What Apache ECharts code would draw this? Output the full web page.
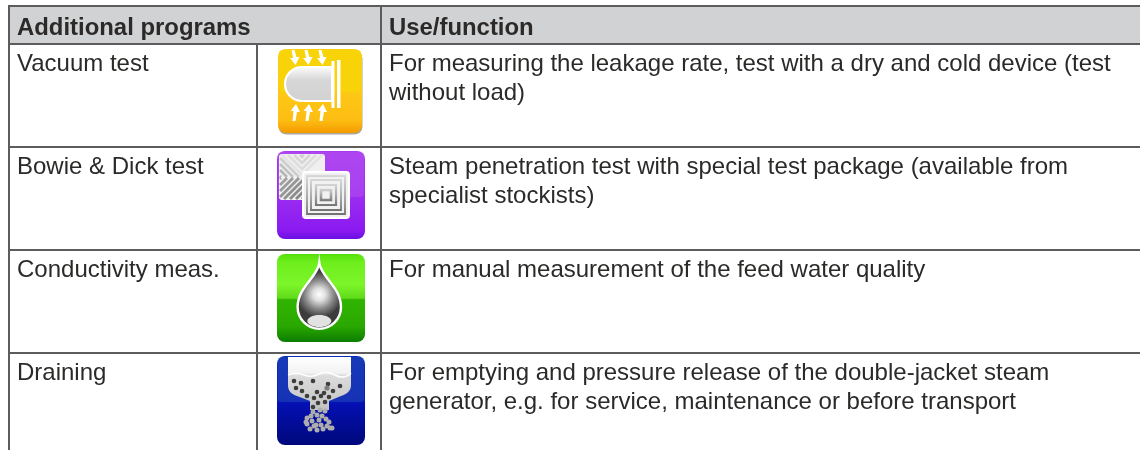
<!DOCTYPE html>
<html>
<head>
<meta charset="utf-8">
<title>Additional programs</title>
<style>
html,body{margin:0;padding:0;background:#fff}
#main{width:1140px;height:450px}
</style>
<script src="https://cdn.jsdelivr.net/npm/echarts@6/dist/echarts.min.js"></script>
</head>
<body>
<div id="main"></div>
<script>
// table content
var headers = ['Additional programs', 'Use/function'];
var programs = ['Vacuum test', 'Bowie & Dick test', 'Conductivity meas.', 'Draining'];
var uses = [
    ['For measuring the leakage rate, test with a dry and cold device (test', 'without load)'],
    ['Steam penetration test with special test package (available from', 'specialist stockists)'],
    ['For manual measurement of the feed water quality'],
    ['For emptying and pressure release of the double-jacket steam', 'generator, e.g. for service, maintenance or before transport']
];

var Grad = echarts.graphic.LinearGradient;
var Radial = echarts.graphic.RadialGradient;
var LINE = '#5c5c5e';
var TEXT = '#2b2a29';
var FONT = '"Liberation Sans", Arial, sans-serif';
var rowTop = [44, 147, 250, 353];

function rect(x, y, w, h, fill, r) {
    return {type: 'rect', shape: {x: x, y: y, width: w, height: h, r: r || 0}, style: {fill: fill}};
}
function text(str, x, y, bold) {
    return {type: 'text', style: {text: str, x: x, y: y, fill: TEXT, fontFamily: FONT,
        fontSize: bold ? 23.9 : 24, fontWeight: bold ? 'bold' : 'normal', align: 'left', verticalAlign: 'middle'}};
}
function path(d, fill, stroke, lw) {
    return {type: 'path', shape: {pathData: d}, style: {fill: fill || 'none', stroke: stroke || 'none', lineWidth: lw || 1}};
}
function dot(x, y, r, fill) {
    return {type: 'circle', shape: {cx: x, cy: y, r: r}, style: {fill: fill}};
}
function group(x, y, children) {
    return {type: 'group', x: x, y: y, children: children};
}
// rounded square with a lighter upper part, as in all four buttons
function button(w, h, stops, gloss, m) {
    return [
        rect(0, 0, w, h, new Grad(0, 0, 0, 1, stops), 8),
        path('M5 1H' + (w - 5) + 'Q' + (w - 1) + ' 1 ' + (w - 1) + ' 5V' + (m - 4) + 'Q' + (w - 1) + ' ' + m + ' ' + (w - 5) + ' ' + m + 'H5Q1 ' + m + ' 1 ' + (m - 4) + 'V5Q1 1 5 1Z', gloss)
    ];
}

function tableLines() {
    var c = [];
    c.push(rect(9, 6, 1131, 38, '#d1d2d4'));
    c.push(rect(8, 5, 1132, 2, LINE));
    c.push(rect(8, 43, 1132, 2, LINE));
    c.push(rect(8, 5, 2, 445, LINE));
    c.push(rect(380, 5, 2, 445, LINE));
    c.push(rect(256, 44, 2, 406, LINE));
    c.push(rect(8, 146, 1132, 2, LINE));
    c.push(rect(8, 249, 1132, 2, LINE));
    c.push(rect(8, 352, 1132, 2, LINE));
    return c;
}

function tableText() {
    var c = [text(headers[0], 17, 28, true), text(headers[1], 389, 28, true)];
    programs.forEach(function (name, i) {
        c.push(text(name, 17, rowTop[i] + 20));
        uses[i].forEach(function (line, j) {
            c.push(text(line, 389, rowTop[i] + 20 + j * 29.5));
        });
    });
    return c;
}

// vacuum test button
function vacuumIcon() {
    var c = [rect(0.5, 1.5, 84, 84, '#a8a8a0', 8)].concat(button(84, 84,
        [{offset: 0, color: '#f8cf12'}, {offset: 0.5, color: '#fdc916'}, {offset: 0.85, color: '#fdbd12'}, {offset: 1, color: '#f49a00'}],
        'rgba(247,212,8,0.9)', 43));
    c.push(path('M54 18H24A17 17 0 0 0 24 52H54Z', new Grad(0, 0, 0, 1, [{offset: 0, color: '#ffffff'}, {offset: 0.4, color: '#d6d6d6'}, {offset: 1, color: '#d2d2d2'}]), '#fff', 2.2));
    c.push(rect(53.5, 12, 3, 47, '#fff'));
    c.push(rect(59, 11, 3.5, 48, '#fff'));
    [17, 30, 44].forEach(function (x) {
        // arrows lean a little, tail to the left
        c.push(path('M' + (x - 3.5) + ' 1L' + (x - 2) + ' 9H' + (x - 5) + 'L' + (x + 0.5) + ' 16L' + (x + 4.5) + ' 8H' + (x + 1.5) + 'L' + (x - 0.5) + ' 1Z', '#fff'));
        c.push(path('M' + (x - 2.5) + ' 72L' + (x - 1.5) + ' 62H' + (x - 4.5) + 'L' + (x + 1) + ' 55L' + (x + 5) + ' 63H' + (x + 2) + 'L' + (x + 0.5) + ' 72Z', '#fff'));
    });
    return group(278, 49, c);
}

// Bowie & Dick button
function bowieIcon() {
    var c = button(88, 88,
        [{offset: 0, color: '#a83cf0'}, {offset: 0.55, color: '#9a2bf0'}, {offset: 0.9, color: '#8a1af0'}, {offset: 1, color: '#6a10e0'}],
        'rgba(178,80,240,0.55)', 46);
    var a = [rect(0, 0, 46, 46, '#f0f0f0', 3)];
    // chevrons on top, going grey towards the lower left
    [3, 9, 15, 21].forEach(function (k, i) {
        var g = 226 - i * 6;
        var col = 'rgb(' + g + ',' + g + ',' + g + ')';
        a.push(path('M' + k + ' 1L23 ' + (24 - k) + 'L' + (46 - k) + ' 1', 'none', col, 2.6));
    });
    [3, 9, 15, 21].forEach(function (k, i) {
        var g = 205 - i * 12;
        var col = 'rgb(' + g + ',' + g + ',' + g + ')';
        a.push(path('M1 ' + (1 + k) + 'L' + (23 - k) + ' 23', 'none', col, 2.6));
    });
    [26, 32, 38, 44, 50, 56, 62, 68].forEach(function (s, i) {
        var g = 165 - i * 5;
        var col = 'rgb(' + g + ',' + g + ',' + g + ')';
        a.push(path('M' + Math.max(1, s - 45) + ' ' + Math.min(45, s - 1) + 'L' + (s - 24) + ' 24', 'none', col, 2.8));
    });
    c.push(group(2, 3, a));
    var b = [rect(-1, -1, 48, 48, '#fff', 4), rect(1, 1, 44, 44, '#f1f1f1', 2)];
    // rings, light at the top and dark towards the bottom
    [[4, 38, 1.8], [8, 30, 1.8], [13, 20, 2.2], [18, 10, 2.6]].forEach(function (s) {
        b.push({type: 'rect', shape: {x: s[0], y: s[0], width: s[1], height: s[1]},
            style: {fill: 'none', lineWidth: s[2], stroke: new Grad(0, 0, 0, 1, [{offset: 0, color: '#dcdcdc'}, {offset: 0.5, color: '#a8a8a8'}, {offset: 1, color: '#6c6c6c'}])}});
    });
    c.push(group(26, 21, b));
    return group(277, 151, c);
}

// conductivity button
function dropIcon() {
    var c = button(88, 88,
        [{offset: 0, color: '#52de08'}, {offset: 0.1, color: '#6cef1c'}, {offset: 0.35, color: '#7cf52a'}, {offset: 0.5, color: '#5cd818'}, {offset: 0.52, color: '#30b400'}, {offset: 0.82, color: '#2aa800'}, {offset: 1, color: '#0c7c00'}],
        'rgba(130,248,40,0.12)', 45);
    var drop = 'M42.3 9C44 23 64 33 64 53A21.7 21.7 0 0 1 20.6 53C20.6 33 40.6 23 42.3 9Z';
    c.push(path(drop, new Radial(0.5, 0.48, 0.5, [{offset: 0, color: '#ffffff'}, {offset: 0.28, color: '#dedede'}, {offset: 0.62, color: '#8a8a8a'}, {offset: 1, color: '#3c3c3c'}]), '#fff', 2.4));
    c.push({type: 'ellipse', shape: {cx: 42.3, cy: 67, rx: 12, ry: 6}, style: {fill: '#e2e2e2'}});
    return group(277, 254, c);
}

// draining button
function drainIcon() {
    var c = button(88, 89,
        [{offset: 0, color: '#0a2bb4'}, {offset: 0.5, color: '#0a20b0'}, {offset: 0.53, color: '#0410b4'}, {offset: 1, color: '#00087a'}],
        'rgba(40,80,190,0.4)', 46);
    var hopper = 'M11 1H74V29C74 35 70 38 64 40L52 45V54H33V45L20 40C14 38 11 35 11 29Z';
    c.push(path(hopper, new Grad(0, 0, 0, 1, [{offset: 0, color: '#ffffff'}, {offset: 0.3, color: '#f2f2f2'}, {offset: 0.35, color: '#dcdcdc'}, {offset: 1, color: '#c2c2c2'}])));
    c.push(path('M11 19Q19 16 27 19T42 18T58 19T74 17', 'none', '#fff', 1.5));
    var dark = [[17, 25], [24, 27], [36, 25], [51, 28], [63, 30], [19, 32], [25, 35], [40, 36], [56, 35], [30, 40], [37, 42], [44, 40], [47, 37], [52, 41], [41, 47], [48, 46], [36, 51]];
    dark.forEach(function (p) { c.push(dot(p[0], p[1], 2.3, '#3e3e3e')); });
    c.push(dot(50, 32, 2.6, '#7e7e7e'));
    var grey = [[36, 56], [43, 54], [48, 55], [34, 60], [40, 59], [45, 60], [30, 62], [35, 65], [42, 64], [49, 63], [52, 66], [30, 68], [37, 70], [44, 69], [50, 70], [33, 73], [40, 74], [46, 73], [53, 72], [55, 72], [39, 69], [29, 66]];
    grey.forEach(function (p) { c.push(dot(p[0], p[1], 2.5, '#adadad')); });
    return group(277, 356, c);
}

var myChart = echarts.init(document.getElementById('main'));
myChart.setOption({
    backgroundColor: '#fff',
    animation: false,
    series: [{
        type: 'custom',
        coordinateSystem: 'none',
        silent: true,
        data: [0],
        renderItem: function () {
            return {
                type: 'group',
                children: tableLines().concat(tableText(), [vacuumIcon(), bowieIcon(), dropIcon(), drainIcon()])
            };
        }
    }]
});
</script>
</body>
</html>
